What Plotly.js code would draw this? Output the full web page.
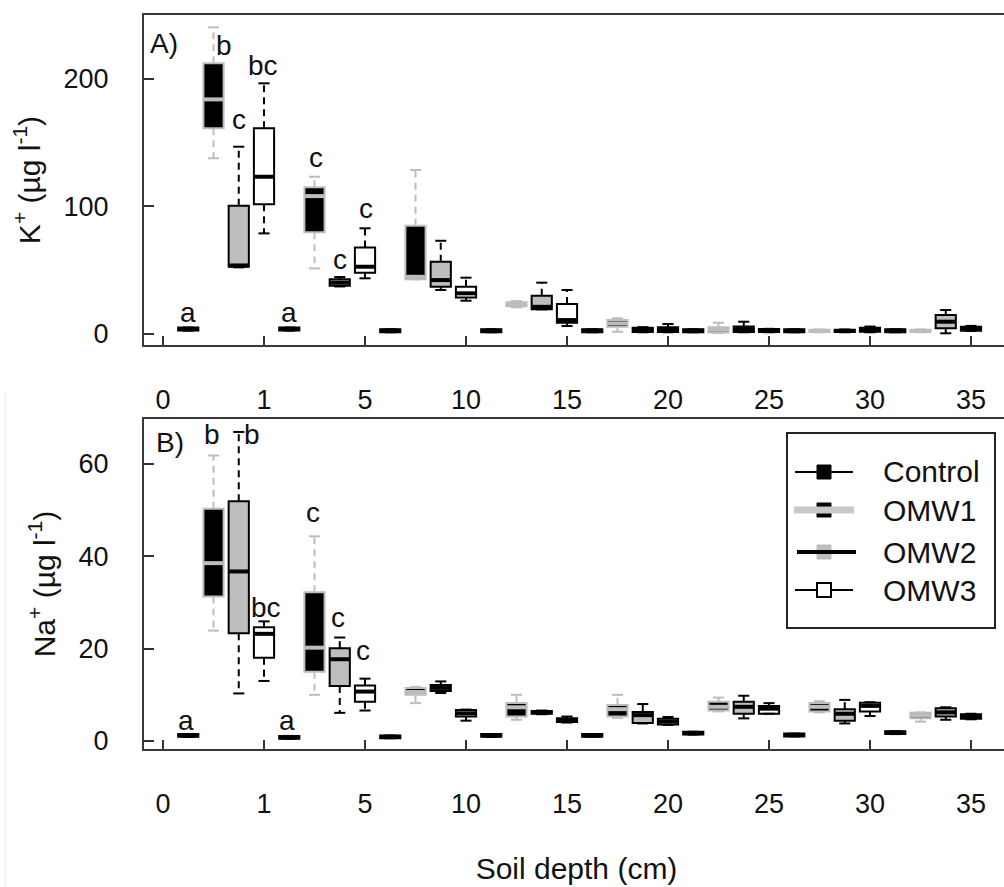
<!DOCTYPE html>
<html><head><meta charset="utf-8">
<script src="https://cdn.plot.ly/plotly-3.0.1.min.js"></script>
<style>html,body{margin:0;padding:0;overflow:hidden;background:#fff}#chart{width:1012px;height:887px}</style>
</head><body><div id="chart"></div>
<script>
// ---------- data ----------
const depthLabels = ['0','1','5','10','15','20','25','30','35'];
const treatments = ['Control','OMW1','OMW2','OMW3'];

// K+ (µg l-1), one value per depth interval (0-1,1-5,5-10,...,30-35)
const K_CONTROL = {lo:[2.3,2.3,1.0,1.0,1.0,1.0,1.0,1.0], q1:[2.3,2.3,1.0,1.0,1.0,1.0,1.0,1.0], med:[3.5,3.5,2.2,2.2,2.2,2.2,2.2,2.2], q3:[4.7,4.7,3.4,3.4,3.4,3.4,3.4,3.4], hi:[4.7,4.7,3.4,3.4,3.4,3.4,3.4,3.4]};
const K_OMW1 = {lo:[137.7,51.2,42.6,20.6,1.4,0.5,1.0,1.0], q1:[161.3,79.5,42.6,21.5,5.3,0.8,1.2,1.2], med:[184,108,44.6,23,8,3,2,2], q3:[212.3,114.9,84.7,24.5,10.6,5,3,3], hi:[240.6,123.2,128.5,25.5,12,8.5,3.2,3.2]};
const K_OMW2 = {lo:[52,37,34.2,19,1,1,1,0.2], q1:[52.5,37.6,36.8,19,1.3,1.2,1.2,4.1], med:[53.5,40,42,21,3,3.5,2,9.3], q3:[100.4,42.6,56.4,29.7,4.5,5.5,3,14.5], hi:[146.8,44.4,72.9,40,5,9.3,3.2,18.5]};
const K_OMW3 = {lo:[78.7,43.4,25.8,5.9,1,1,1,2], q1:[101.5,47.8,28.4,8.5,1.2,1.2,1.5,2.2], med:[123.2,52.5,31.6,10.6,3,2,3,4], q3:[161.3,67.7,36.8,23.2,5,3.5,4.5,5.3], hi:[196.6,82.7,43.9,34.2,7.5,3.7,5.5,6]};
const K_LETTERS = {text:['a','b','c','bc','a','c','c','c'], x:[0.99,2.42,3.0,3.96,4.99,6.06,7.0,8.04], y:[16.9,226.7,167.8,210.9,16.9,138.7,57.8,98.6]};

// Na+ (µg l-1)
const NA_CONTROL = {lo:[0.9,0.5,0.6,0.9,0.9,1.4,1.0,1.5], q1:[0.9,0.5,0.6,0.9,0.9,1.4,1.0,1.5], med:[1.2,0.8,0.9,1.2,1.2,1.7,1.3,1.8], q3:[1.5,1.1,1.2,1.5,1.5,2.0,1.6,2.1], hi:[1.5,1.1,1.2,1.5,1.5,2.0,1.6,2.1]};
const NA_OMW1 = {lo:[23.9,10,8.2,4.6,5.0,6.4,6.2,4.2], q1:[31.3,15,10,5.3,5.3,6.6,6.4,4.9], med:[38.5,20.2,10.6,7.3,6.9,7.4,7.4,5.6], q3:[50.3,32.2,11.5,8.2,7.8,8.5,8.2,6.1], hi:[61.8,44.3,11.7,10,10,9.4,8.6,6.2]};
const NA_OMW2 = {lo:[10.3,6.1,10.4,5.8,3.8,4.9,3.8,4.6], q1:[23.3,11.9,10.8,5.9,3.9,5.9,4.4,5.3], med:[36.7,17.7,11.5,6.2,5.6,7.4,5.9,6.2], q3:[51.9,20.1,12.1,6.5,6.3,8.5,6.9,7.1], hi:[66.9,22.4,12.9,6.6,8.0,9.8,8.9,7.3]};
const NA_OMW3 = {lo:[13,6.6,4.4,4.0,3.5,5.9,5.4,4.7], q1:[18,8.5,5.3,4.1,3.6,5.9,6.4,4.8], med:[23.2,10.7,6.0,4.5,4.2,7.0,7.6,5.3], q3:[24.6,12,6.7,4.9,4.8,7.6,8.3,5.8], hi:[25.9,13.5,6.8,5.3,5.2,8.2,8.4,5.9]};
const NA_LETTERS = {text:['a','b','b','bc','a','c','c','c'], x:[0.91,1.94,3.52,4.08,4.92,5.94,6.93,7.92], y:[4.5,66.3,66.3,29,4.5,49.4,26.7,19.7]};

// ---------- styles ----------
const FILL = ['#000000','#000000','#bebebe','#ffffff'];
const LINE = ['#000000','#bdbdbd','#000000','#000000'];
const FONT = 'Liberation Sans, Arial, sans-serif';
const BOXW = 0.8, STAPLE = 0.22;

function positions(t){ return depthLabels.slice(1).map((_, g) => g*4 + t + 1); }

const traces = [];
function addSeries(stats, t, xa, ya){
  const x = positions(t);
  traces.push({type:'box', x:x, q1:stats.q1, median:stats.med, q3:stats.q3,
    lowerfence:stats.q1, upperfence:stats.q3, width:BOXW, boxpoints:false,
    fillcolor:FILL[t], line:{color:LINE[t], width:2}, whiskerwidth:0,
    xaxis:xa, yaxis:ya, showlegend:false, hoverinfo:'skip', name:treatments[t]});
  const wx=[], wy=[], sx=[], sy=[], mx=[], my=[];
  x.forEach((p,i)=>{
    wx.push(p,p,null,p,p,null); wy.push(stats.q3[i],stats.hi[i],null,stats.q1[i],stats.lo[i],null);
    sx.push(p-STAPLE,p+STAPLE,null,p-STAPLE,p+STAPLE,null); sy.push(stats.hi[i],stats.hi[i],null,stats.lo[i],stats.lo[i],null);
    mx.push(p-BOXW/2+0.03,p+BOXW/2-0.03,null); my.push(stats.med[i],stats.med[i],null);
  });
  traces.push({type:'scatter', mode:'lines', x:wx, y:wy, line:{color:LINE[t], width:2, dash:'7px,5px'}, xaxis:xa, yaxis:ya, showlegend:false, hoverinfo:'skip'});
  traces.push({type:'scatter', mode:'lines', x:sx, y:sy, line:{color:LINE[t], width:2}, xaxis:xa, yaxis:ya, showlegend:false, hoverinfo:'skip'});
  traces.push({type:'scatter', mode:'lines', x:mx, y:my, line:{color:LINE[t], width:4}, xaxis:xa, yaxis:ya, showlegend:false, hoverinfo:'skip'});
}
[K_CONTROL,K_OMW1,K_OMW2,K_OMW3].forEach((s,t)=>addSeries(s,t,'x','y'));
[NA_CONTROL,NA_OMW1,NA_OMW2,NA_OMW3].forEach((s,t)=>addSeries(s,t,'x2','y2'));

// ---------- layout helpers ----------
const L=144, R=1009, T=15, B=749;
const px = v => (v-L)/(R-L);
const py = v => (B-v)/(B-T);

const annotations = [];
function letters(set, xr, yr){
  set.text.forEach((s,i)=>annotations.push({text:s, x:set.x[i], y:set.y[i], xref:xr, yref:yr, xanchor:'center', yanchor:'middle', showarrow:false, font:{family:FONT, size:28, color:'#111'}}));
}
letters(K_LETTERS,'x','y');
letters(NA_LETTERS,'x2','y2');
annotations.push({text:'A)', x:px(148), y:py(43), xref:'paper', yref:'paper', xanchor:'left', yanchor:'middle', showarrow:false, font:{family:FONT,size:28,color:'#111'}});
annotations.push({text:'B)', x:px(154), y:py(443), xref:'paper', yref:'paper', xanchor:'left', yanchor:'middle', showarrow:false, font:{family:FONT,size:28,color:'#111'}});

// legend (drawn as in the original R legend)
const rowsY = [472, 510, 552, 590];
const shapes = [];
shapes.push({type:'line', xref:'paper', yref:'paper', x0:px(5), x1:px(5), y0:py(392), y1:py(887), line:{color:'#ececec', width:1}});
shapes.push({type:'rect', xref:'paper', yref:'paper', x0:px(787), x1:px(995), y0:py(433), y1:py(628), line:{color:'#222', width:2}, fillcolor:'#ffffff'});
const sq = (yc, fill, lc, lw) => ({type:'rect', xref:'paper', yref:'paper', x0:px(817), x1:px(831), y0:py(yc-7), y1:py(yc+7), fillcolor:fill, line:{color:lc, width:lw}});
const ln = (yc, color, w, a, b) => ({type:'line', xref:'paper', yref:'paper', x0:px(a), x1:px(b), y0:py(yc), y1:py(yc), line:{color:color, width:w}});
shapes.push(ln(rowsY[0], '#000', 2, 795, 853), sq(rowsY[0], '#000', '#000', 1));
shapes.push(sq(rowsY[1], '#000', '#000', 1), ln(rowsY[1], '#c8c8c8', 7, 794, 854));
shapes.push(sq(rowsY[2], '#bdbdbd', '#bdbdbd', 1), ln(rowsY[2], '#000', 4, 797, 856));
shapes.push(ln(rowsY[3], '#000', 2, 795, 853), sq(rowsY[3], '#fff', '#000', 2));
treatments.forEach((t,i)=>annotations.push({text:t, x:px(881), y:py(rowsY[i]), xref:'paper', yref:'paper', xanchor:'left', yanchor:'middle', showarrow:false, font:{family:FONT,size:30,color:'#111'}}));

const xCommon = {range:[-0.7525, 33.505], tickmode:'array', tickvals:depthLabels.map((_,i)=>i*4), ticktext:depthLabels,
  ticks:'inside', ticklen:9, tickwidth:2, tickcolor:'#333', showline:true, mirror:true, linecolor:'#3a3a3a', linewidth:2,
  showgrid:false, zeroline:false, tickfont:{family:FONT, size:27, color:'#111'}, ticklabelstandoff:30, automargin:false};
const yCommon = {ticks:'inside', ticklen:10, tickwidth:2, tickcolor:'#333', showline:true, mirror:true, linecolor:'#3a3a3a', linewidth:2,
  showgrid:false, zeroline:false, tickfont:{family:FONT, size:27, color:'#111'}, ticklabelstandoff:28, automargin:false, tickmode:'array'};

const layout = {
  width:1012, height:887, margin:{l:L, r:1012-R, t:T, b:887-B},
  paper_bgcolor:'#fff', plot_bgcolor:'#fff', showlegend:false, boxmode:'overlay',
  xaxis: Object.assign({}, xCommon, {anchor:'y', domain:[0,1]}),
  yaxis: Object.assign({}, yCommon, {anchor:'x', domain:[py(345),1], range:[-9,250.3], tickvals:[0,100,200],
    title:{text:'K<sup>+</sup> (µg l<sup>-1</sup>)', font:{family:FONT,size:30,color:'#111'}, standoff:14}}),
  xaxis2: Object.assign({}, xCommon, {anchor:'y2', domain:[0,1],
    title:{text:'Soil depth (cm)', font:{family:FONT,size:30,color:'#111'}, standoff:40}}),
  yaxis2: Object.assign({}, yCommon, {anchor:'x2', domain:[0,py(419)], range:[-1.73,69.7], tickvals:[0,20,40,60],
    title:{text:'Na<sup>+</sup> (µg l<sup>-1</sup>)', font:{family:FONT,size:30,color:'#111'}, standoff:14}}),
  annotations: annotations, shapes: shapes
};
Plotly.newPlot('chart', traces, layout, {staticPlot:true, displayModeBar:false});
</script></body></html>
